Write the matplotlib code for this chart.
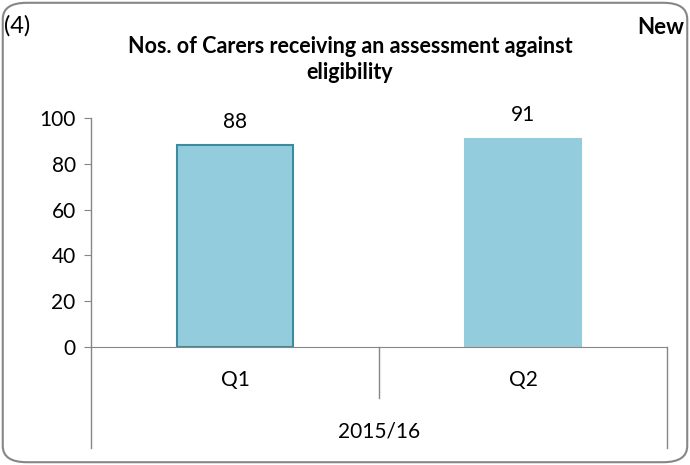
import matplotlib.pyplot as plt
from matplotlib.patches import FancyBboxPatch

# data
quarters = ['Q1', 'Q2']
values = [88, 91]
year_label = '2015/16'
title = 'Nos. of Carers receiving an assessment against\neligibility'

fill = '#93CDDD'
edges = ['#3C8BA0', fill]
grey = '#868686'

plt.rcParams['font.family'] = ['Lato', 'DejaVu Sans']

fig = plt.figure(figsize=(6.9, 4.65), dpi=100)
ax = fig.add_axes([0.1319, 0.2538, 0.8348, 0.4924])

x = range(len(quarters))
bars = ax.bar(x, values, width=0.4, color=fill, edgecolor=edges, linewidth=1.5)

for xi, v in zip(x, values):
    ax.annotate(str(v), (xi, v), xytext=(0, 10), textcoords='offset points',
                ha='center', va='bottom', fontsize=15)

ax.set_xlim(-0.5, len(quarters) - 0.5)
ax.set_ylim(0, 100)
ax.set_yticks(range(0, 101, 20))
ax.tick_params(axis='y', labelsize=15, length=5, color=grey, pad=6)
ax.set_xticks([])
for s in ['top', 'right', 'left']:
    ax.spines[s].set_visible(False)
ax.spines['bottom'].set_color(grey)
ax.plot([-0.5, -0.5], [0, 1], transform=ax.get_xaxis_transform(), color=grey, lw=1, clip_on=False)

# category axis separators and labels
tr = ax.get_xaxis_transform()
n = len(quarters)
for b in range(n + 1):
    xb = b - 0.5
    low = -0.441 if b in (0, n) else -0.223
    ax.plot([xb, xb], [0, low], transform=tr, color=grey, lw=1, clip_on=False)
for xi, q in zip(x, quarters):
    ax.text(xi, -0.144, q, transform=tr, ha='center', va='center', fontsize=15)
ax.text((n - 1) / 2, -0.371, year_label, transform=tr, ha='center', va='center', fontsize=15)

fig.text(0.507, 0.873, title, ha='center', va='center', fontsize=15.5,
         fontweight='bold', linespacing=1.3)
fig.text(0.006, 0.945, '(4)', ha='left', va='center', fontsize=17)
fig.text(0.923, 0.94, 'New', ha='left', va='center', fontsize=16, fontweight='bold')

border = FancyBboxPatch((0.004, 0.006), 0.992, 0.988, boxstyle='round,pad=0,rounding_size=0.035',
                        transform=fig.transFigure, fill=False, edgecolor=grey, lw=1.5)
fig.patches.append(border)

fig.savefig('out.png', dpi=100)
